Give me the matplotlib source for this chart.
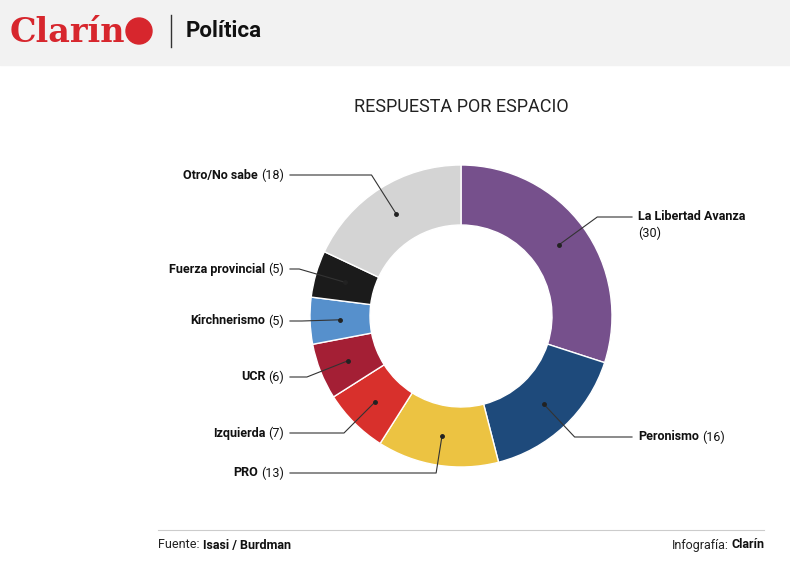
import numpy as np
import matplotlib
matplotlib.use("Agg")
import matplotlib.pyplot as plt
from matplotlib.patches import Rectangle, Circle

plt.rcParams['font.family'] = ['Roboto', 'DejaVu Sans']

labels = ['La Libertad Avanza', 'Peronismo', 'PRO', 'Izquierda', 'UCR',
          'Kirchnerismo', 'Fuerza provincial', 'Otro/No sabe']
values = [30, 16, 13, 7, 6, 5, 5, 18]
colors = ['#76508c', '#1e4a7b', '#ecc342', '#d8302c', '#a41f35',
          '#5690cc', '#1b1b1b', '#d4d4d4']
label_y = [217, 437, 473, 433, 377, 321, 269, 175]

W, H = 790, 567
fig = plt.figure(figsize=(W / 100, H / 100), dpi=100)
ax = fig.add_axes([0, 0, 1, 1])

# header
ax.add_patch(Rectangle((0, 0), W, 65, color='#f2f2f2', zorder=0))
ax.text(10, 32, 'Clarín', color='#d7262d', fontsize=24, fontweight='bold',
        family='DejaVu Serif', va='center', ha='left')
ax.add_patch(Circle((139, 31), 13, color='#d7262d'))
ax.plot([171, 171], [15, 47], color='#333333', lw=1)
ax.text(186, 31, 'Política', fontsize=16, fontweight='bold', va='center', color='#111111')

ax.text(461, 107, 'RESPUESTA POR ESPACIO', fontsize=13, ha='center', va='center', color='#222222')

cx, cy, R, w = 461, 316, 151, 60
ax.pie(values, colors=colors, center=(cx, cy), radius=R, startangle=-90,
       counterclock=True, wedgeprops=dict(width=w, edgecolor='white', linewidth=1),
       frame=True)
ax.set_xlim(0, W)
ax.set_ylim(H, 0)
ax.set_aspect('equal')
ax.axis('off')

fs = 9
fig.canvas.draw()
renderer = fig.canvas.get_renderer()
cum = np.cumsum([0] + values)
for i, lab in enumerate(labels):
    mid = (cum[i] + values[i] / 2) / cum[-1] * 2 * np.pi
    dx, dy = np.sin(mid), -np.cos(mid)
    px, py = cx + (R - w / 2) * dx, cy + (R - w / 2) * dy
    ly = label_y[i]
    t = (ly - py) / dy if abs(dy) > 1e-3 else 0
    ex = px + t * dx
    ax.plot(px, py, 'o', color='#222222', ms=2.5, zorder=5)
    if dx > 0:
        ax.plot([px, ex, 632], [py, ly, ly], color='#333333', lw=0.8, zorder=4)
        ax.text(638, ly, lab, fontsize=fs, fontweight='bold', va='center', ha='left', color='#111111')
        if i == 0:
            ax.text(638, ly + 16, '(%d)' % values[i], fontsize=fs, va='center', ha='left', color='#111111')
        else:
            tx = ax.text(638, ly, lab, fontsize=fs, fontweight='bold', va='center', ha='left', alpha=0)
            bb = tx.get_window_extent(renderer)
            ax.text(bb.x1 + 3, ly, '(%d)' % values[i], fontsize=fs, va='center', ha='left', color='#111111')
    else:
        ex = min(ex, px)
        ax.plot([px, ex, 290], [py, ly, ly], color='#333333', lw=0.8, zorder=4)
        num = ax.text(284, ly, '(%d)' % values[i], fontsize=fs, va='center', ha='right', color='#111111')
        bb = num.get_window_extent(renderer)
        ax.text(bb.x0 - 3, ly, lab, fontsize=fs, fontweight='bold', va='center', ha='right', color='#111111')

# footer
ax.plot([158, 764], [530, 530], color='#cccccc', lw=0.8)
f1 = ax.text(158, 545, 'Fuente: ', fontsize=fs, va='center', ha='left', color='#222222')
bb = f1.get_window_extent(renderer)
ax.text(bb.x1, 545, 'Isasi / Burdman', fontsize=fs, fontweight='bold', va='center', ha='left', color='#111111')
f2 = ax.text(764, 545, 'Clarín', fontsize=fs, fontweight='bold', va='center', ha='right', color='#111111')
bb = f2.get_window_extent(renderer)
ax.text(bb.x0 - 2, 545, 'Infografía:', fontsize=fs, va='center', ha='right', color='#222222')

fig.savefig('out.png', dpi=100)
